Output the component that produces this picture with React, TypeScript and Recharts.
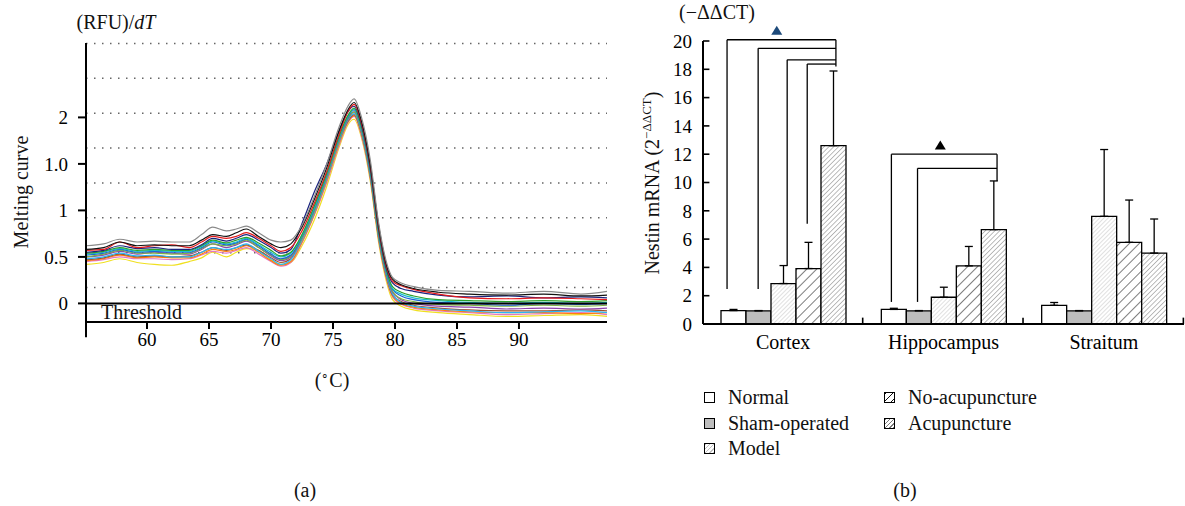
import React from "react";
import {
  Bar,
  BarChart,
  ErrorBar,
  Line,
  LineChart,
  ReferenceDot,
  ReferenceLine,
  XAxis,
  YAxis,
} from "recharts";

// ---- panel (a): melting curves ----
const temps = [
  55.1, 56.5, 57.8, 59.2, 60.6, 62, 63.4, 64.4, 65.3, 66.4, 67.2, 68, 69, 70, 70.8, 71.6, 72.5,
  73.5, 74.5, 75.5, 76.2, 76.7, 77.3, 78, 78.7, 79.3, 79.8, 80.5, 81.5, 83.5, 86, 89, 92, 95, 97.1,
];

const curveGray = [0.62, 0.64, 0.69, 0.66, 0.67, 0.66, 0.66, 0.74, 0.82, 0.78, 0.8, 0.83, 0.76, 0.68, 0.66, 0.68, 0.84, 1.15, 1.5, 1.9, 2.12, 2.2, 2.0, 1.55, 0.85, 0.45, 0.28, 0.22, 0.18, 0.14, 0.13, 0.11, 0.13, 0.1, 0.13];
const curveBlack = [0.58, 0.6, 0.66, 0.62, 0.63, 0.62, 0.62, 0.68, 0.74, 0.72, 0.76, 0.8, 0.72, 0.64, 0.6, 0.64, 0.82, 1.12, 1.46, 1.86, 2.08, 2.16, 1.96, 1.5, 0.82, 0.42, 0.26, 0.2, 0.16, 0.12, 0.1, 0.09, 0.1, 0.08, 0.09];
const curveRed = [0.57, 0.58, 0.66, 0.6, 0.62, 0.63, 0.6, 0.66, 0.72, 0.7, 0.72, 0.76, 0.7, 0.62, 0.56, 0.6, 0.78, 1.08, 1.42, 1.82, 2.06, 2.14, 1.94, 1.48, 0.8, 0.4, 0.24, 0.19, 0.15, 0.1, 0.06, 0.05, 0.06, 0.05, 0.04];
const curveNavy = [0.55, 0.57, 0.62, 0.59, 0.6, 0.58, 0.58, 0.63, 0.7, 0.67, 0.7, 0.74, 0.68, 0.6, 0.54, 0.58, 0.86, 1.2, 1.5, 1.86, 2.06, 2.12, 1.92, 1.46, 0.78, 0.38, 0.22, 0.16, 0.13, 0.09, 0.07, 0.08, 0.06, 0.07, 0.06];
const curveGreen = [0.54, 0.56, 0.6, 0.57, 0.58, 0.57, 0.57, 0.62, 0.68, 0.65, 0.68, 0.71, 0.65, 0.57, 0.51, 0.55, 0.74, 1.05, 1.4, 1.8, 2.02, 2.1, 1.9, 1.45, 0.76, 0.36, 0.18, 0.12, 0.08, 0.04, 0.03, 0.02, 0.03, 0.02, 0.03];
const curveTeal = [0.53, 0.55, 0.59, 0.56, 0.57, 0.56, 0.56, 0.61, 0.67, 0.64, 0.66, 0.7, 0.63, 0.55, 0.5, 0.54, 0.73, 1.03, 1.39, 1.79, 2.01, 2.09, 1.89, 1.43, 0.75, 0.35, 0.16, 0.1, 0.06, 0.03, 0.01, 0.0, 0.01, 0.0, 0.01];
const curveBlue = [0.52, 0.54, 0.58, 0.55, 0.56, 0.55, 0.55, 0.6, 0.66, 0.63, 0.65, 0.69, 0.62, 0.53, 0.48, 0.52, 0.72, 1.02, 1.38, 1.78, 2.0, 2.08, 1.88, 1.42, 0.74, 0.34, 0.15, 0.08, 0.04, 0.01, 0.0, -0.02, 0.0, -0.01, 0.0];
const curveOlive = [0.5, 0.53, 0.57, 0.54, 0.54, 0.53, 0.54, 0.59, 0.64, 0.62, 0.64, 0.68, 0.6, 0.52, 0.47, 0.51, 0.7, 1.0, 1.36, 1.76, 1.99, 2.06, 1.86, 1.4, 0.72, 0.33, 0.13, 0.05, 0.02, -0.01, -0.02, -0.03, -0.02, -0.03, -0.02];
const curvePurple = [0.5, 0.52, 0.56, 0.53, 0.55, 0.54, 0.53, 0.58, 0.64, 0.6, 0.63, 0.67, 0.6, 0.51, 0.46, 0.5, 0.7, 1.0, 1.36, 1.76, 1.98, 2.06, 1.86, 1.4, 0.72, 0.32, 0.12, 0.04, 0.0, -0.03, -0.04, -0.06, -0.05, -0.06, -0.05];
const curveCyan = [0.48, 0.5, 0.54, 0.51, 0.52, 0.5, 0.5, 0.55, 0.6, 0.58, 0.6, 0.64, 0.56, 0.48, 0.42, 0.47, 0.68, 0.98, 1.34, 1.74, 1.97, 2.04, 1.84, 1.38, 0.7, 0.3, 0.1, 0.01, -0.03, -0.06, -0.08, -0.1, -0.09, -0.08, -0.1];
const curveBrown = [0.47, 0.49, 0.53, 0.5, 0.51, 0.5, 0.51, 0.55, 0.6, 0.57, 0.6, 0.63, 0.57, 0.49, 0.44, 0.48, 0.69, 0.99, 1.35, 1.75, 1.96, 2.03, 1.83, 1.37, 0.69, 0.29, 0.09, 0.02, -0.02, -0.05, -0.07, -0.08, -0.08, -0.07, -0.08];
const curveOrange = [0.46, 0.48, 0.52, 0.49, 0.5, 0.49, 0.49, 0.53, 0.58, 0.56, 0.58, 0.62, 0.55, 0.46, 0.41, 0.45, 0.66, 0.96, 1.32, 1.72, 1.95, 2.02, 1.82, 1.36, 0.68, 0.28, 0.08, 0.0, -0.04, -0.07, -0.09, -0.1, -0.1, -0.11, -0.1];
const curvePink = [0.45, 0.47, 0.5, 0.48, 0.48, 0.47, 0.48, 0.52, 0.56, 0.54, 0.57, 0.6, 0.53, 0.45, 0.4, 0.44, 0.65, 0.95, 1.3, 1.7, 1.94, 2.01, 1.8, 1.35, 0.67, 0.27, 0.07, -0.01, -0.05, -0.08, -0.1, -0.12, -0.11, -0.1, -0.12];
const curveYellow = [0.42, 0.44, 0.48, 0.44, 0.42, 0.41, 0.45, 0.49, 0.55, 0.5, 0.55, 0.59, 0.57, 0.47, 0.42, 0.44, 0.62, 0.9, 1.26, 1.68, 1.92, 1.98, 1.78, 1.32, 0.64, 0.24, 0.04, -0.03, -0.07, -0.1, -0.12, -0.14, -0.13, -0.12, -0.14];

const curves = [
  curveYellow, curvePink, curveOrange, curveBrown, curveCyan, curvePurple, curveOlive,
  curveBlue, curveTeal, curveGreen, curveNavy, curveRed, curveBlack, curveGray,
];
const curveColors = [
  "#f0e020", "#e377c2", "#ff7f0e", "#a0522d", "#29b6f6", "#8e44ad", "#7cb342",
  "#1f5fd6", "#17becf", "#2ca02c", "#1a237e", "#e41a1c", "#111111", "#8a8a8a",
];

const tempTicks = [60, 65, 70, 75, 80, 85, 90];
const meltTicks = [0, 0.5, 1, 1.5, 2];
const meltTickLabels = ["0", "0.5", "1", "1.0", "2"];
const meltGrid = [0.17, 0.545, 0.92, 1.295, 1.67, 2.045, 2.42, 2.795];
const tMin = 55.08;
const tMax = 97.1;

const meltData = temps.map((t, i) => {
  const row: Record<string, number> = { t };
  curves.forEach((c, k) => (row[`c${k}`] = c[i]));
  return row;
});

// ---- panel (b): Nestin mRNA ----
const regions = ["Cortex", "Hippocampus", "Straitum"];
const regionPos = [0.5, 1.5, 2.5];
const groups = ["Normal", "Sham-operated", "Model", "No-acupuncture", "Acupuncture"];
const normalMean = [0.95, 1.03, 1.32];
const normalSd = [0.08, 0.08, 0.2];
const shamMean = [0.93, 0.93, 0.93];
const shamSd = [0.02, 0.02, 0.02];
const modelMean = [2.86, 1.89, 7.61];
const modelSd = [1.27, 0.71, 4.72];
const noAcuMean = [3.92, 4.11, 5.77];
const noAcuSd = [1.85, 1.37, 2.99];
const acuMean = [12.6, 6.67, 5.01];
const acuSd = [5.28, 3.44, 2.41];

const groupMeans = [normalMean, shamMean, modelMean, noAcuMean, acuMean];
const groupSds = [normalSd, shamSd, modelSd, noAcuSd, acuSd];
const groupFills = ["#ffffff", "#bdbdbd", "url(#hatchModel)", "url(#hatchNoAcu)", "url(#hatchAcu)"];
const swatchFills = [
  "#ffffff",
  "#bdbdbd",
  "repeating-linear-gradient(135deg, #c2c2c2 0 1px, #fff 1px 3px)",
  "repeating-linear-gradient(135deg, #111 0 1px, #fff 1px 5px)",
  "repeating-linear-gradient(135deg, #7a7a7a 0 1px, #fff 1px 3px)",
];

const barTicks = [0, 2, 4, 6, 8, 10, 12, 14, 16, 18, 20];
const regionEdges = [1, 2, 3];

const barData = regions.map((region, r) => {
  const row: Record<string, unknown> = { region, pos: regionPos[r] };
  groups.forEach((_, g) => {
    row[`g${g}`] = groupMeans[g][r];
    row[`e${g}`] = [0, groupSds[g][r]];
  });
  return row;
});

// significance brackets, in (region index + fraction, value) units
const cortexLevels = [20.09, 19.48, 18.67, 18.37];
const cortexFrom = [0.15, 0.344, 0.525, 0.65];
const cortexBase = [2.48, 2.48, 4.12, 7.09];
const cortexJoin = [0.829, 20.09, 18.2];
const hippoLevels = [12.0, 11.0];
const hippoFrom = [1.175, 1.338];
const hippoBase = [1.56, 1.56];
const hippoJoin = [1.834, 12.0, 10.1];
const markers = [
  { x: 0.46, y: 20.73, color: "#1d4a7a" },
  { x: 1.48, y: 12.62, color: "#000000" },
];

const txt: React.CSSProperties = {
  position: "absolute",
  fontSize: 20,
  color: "#111",
  whiteSpace: "nowrap",
  lineHeight: 1,
  transform: "translate(-50%, -50%)",
};

function Triangle(props: any) {
  const { cx, cy, fill } = props;
  return <path d={`M${cx},${cy - 5} L${cx + 5.5},${cy + 4} L${cx - 5.5},${cy + 4} Z`} fill={fill} />;
}

const seg = (x1: number, y1: number, x2: number, y2: number) => [
  { x: x1, y: y1 },
  { x: x2, y: y2 },
];

export default function App() {
  const legendPos = [
    { x: 704, y: 397 },
    { x: 704, y: 423 },
    { x: 704, y: 448 },
    { x: 884, y: 397 },
    { x: 884, y: 423 },
  ];

  return (
    <div style={{ position: "absolute", left: 0, top: 0, width: 1185, height: 506, background: "#fff" }}>
      {/* (a) */}
      <div style={{ position: "absolute", left: 0, top: 0 }}>
        <LineChart width={620} height={360} data={meltData} margin={{ top: 43, right: 13, bottom: 0, left: 0 }}>
          <XAxis
            dataKey="t"
            type="number"
            domain={[tMin, tMax]}
            ticks={tempTicks}
            height={38}
            stroke="#000"
            strokeWidth={2}
            tickSize={7}
            tickMargin={4}
            fontSize={19}
          />
          <YAxis
            type="number"
            domain={[-0.2, 2.8]}
            ticks={meltTicks}
            tickFormatter={(v: number) => meltTickLabels[meltTicks.indexOf(v)]}
            width={86}
            stroke="#000"
            strokeWidth={2}
            tickSize={8}
            tickMargin={10}
            fontSize={19}
          />
          {meltGrid.map((v) => (
            <ReferenceLine key={v} y={v} stroke="#666" strokeWidth={1.5} strokeDasharray="1.5 6.5" />
          ))}
          {curves.map((_, k) => (
            <Line
              key={k}
              dataKey={`c${k}`}
              type="monotone"
              stroke={curveColors[k]}
              strokeWidth={1.2}
              dot={false}
              isAnimationActive={false}
            />
          ))}
          <ReferenceLine y={0} stroke="#000" strokeWidth={2} />
          <ReferenceLine ifOverflow="visible" stroke="#000" strokeWidth={2} segment={seg(tMin, -0.2, tMin, -0.365)} />
        </LineChart>
      </div>

      {/* (b) */}
      <div style={{ position: "absolute", left: 600, top: 0 }}>
        <BarChart
          width={585}
          height={360}
          data={barData}
          margin={{ top: 41, right: 1, bottom: 0, left: 0 }}
          barCategoryGap={18}
          barGap={0}
        >
          <defs>
            <pattern id="hatchModel" patternUnits="userSpaceOnUse" width={3} height={3} patternTransform="rotate(45)">
              <rect width={3} height={3} fill="#fff" />
              <line x1={0} y1={0} x2={0} y2={3} stroke="#c2c2c2" strokeWidth={1} />
            </pattern>
            <pattern id="hatchNoAcu" patternUnits="userSpaceOnUse" width={7} height={7} patternTransform="rotate(45)">
              <rect width={7} height={7} fill="#fff" />
              <line x1={0} y1={0} x2={0} y2={7} stroke="#111" strokeWidth={1.1} />
            </pattern>
            <pattern id="hatchAcu" patternUnits="userSpaceOnUse" width={3.4} height={3.4} patternTransform="rotate(45)">
              <rect width={3.4} height={3.4} fill="#fff" />
              <line x1={0} y1={0} x2={0} y2={3.4} stroke="#7a7a7a" strokeWidth={1} />
            </pattern>
          </defs>
          <XAxis
            dataKey="region"
            height={36}
            tickLine={false}
            tickSize={6}
            tickMargin={5}
            stroke="#000"
            strokeWidth={2}
            fontSize={20}
          />
          <XAxis xAxisId="n" dataKey="pos" type="number" scale="linear" domain={[0, 3]} allowDataOverflow hide />
          <YAxis
            type="number"
            domain={[0, 20]}
            ticks={barTicks}
            width={103}
            tickLine={false}
            tickSize={6}
            tickMargin={5}
            stroke="#000"
            strokeWidth={2}
            fontSize={19}
          />
          {groups.map((g, k) => (
            <Bar key={g} dataKey={`g${k}`} fill={groupFills[k]} stroke="#000" strokeWidth={1.3} isAnimationActive={false}>
              <ErrorBar dataKey={`e${k}`} direction="y" width={4} stroke="#000" strokeWidth={1.3} />
            </Bar>
          ))}
          {barTicks.map((v) => (
            <ReferenceLine key={`yt${v}`} xAxisId="n" ifOverflow="visible" stroke="#000" strokeWidth={1.6} segment={seg(0, v, 0.04, v)} />
          ))}
          {regionEdges.map((x) => (
            <ReferenceLine key={`xe${x}`} xAxisId="n" ifOverflow="visible" stroke="#000" strokeWidth={1.6} segment={seg(x - 0.004, 0, x - 0.004, 0.45)} />
          ))}
          {cortexLevels.map((lv, k) => (
            <ReferenceLine key={`cv${k}`} xAxisId="n" ifOverflow="visible" stroke="#000" strokeWidth={1.3} segment={seg(cortexFrom[k], cortexBase[k], cortexFrom[k], lv)} />
          ))}
          {cortexLevels.map((lv, k) => (
            <ReferenceLine key={`ch${k}`} xAxisId="n" ifOverflow="visible" stroke="#000" strokeWidth={1.3} segment={seg(cortexFrom[k], lv, cortexJoin[0], lv)} />
          ))}
          <ReferenceLine xAxisId="n" ifOverflow="visible" stroke="#000" strokeWidth={1.3} segment={seg(cortexJoin[0], cortexJoin[1], cortexJoin[0], cortexJoin[2])} />
          {hippoLevels.map((lv, k) => (
            <ReferenceLine key={`hv${k}`} xAxisId="n" ifOverflow="visible" stroke="#000" strokeWidth={1.3} segment={seg(hippoFrom[k], hippoBase[k], hippoFrom[k], lv)} />
          ))}
          {hippoLevels.map((lv, k) => (
            <ReferenceLine key={`hh${k}`} xAxisId="n" ifOverflow="visible" stroke="#000" strokeWidth={1.3} segment={seg(hippoFrom[k], lv, hippoJoin[0], lv)} />
          ))}
          <ReferenceLine xAxisId="n" ifOverflow="visible" stroke="#000" strokeWidth={1.3} segment={seg(hippoJoin[0], hippoJoin[1], hippoJoin[0], hippoJoin[2])} />
          {markers.map((m, k) => (
            <ReferenceDot
              key={`m${k}`}
              xAxisId="n"
              x={m.x}
              y={m.y}
              r={5}
              fill={m.color}
              ifOverflow="visible"
              shape={(p: any) => <Triangle {...p} fill={m.color} />}
            />
          ))}
        </BarChart>
      </div>

      {/* axis titles and captions */}
      <div style={{ ...txt, left: 116, top: 22 }}>
        (RFU)/<i>dT</i>
      </div>
      <div style={{ ...txt, left: 21, top: 192, transform: "translate(-50%, -50%) rotate(-90deg)" }}>Melting curve</div>
      <div style={{ ...txt, left: 101, top: 312, transform: "translate(0, -50%)" }}>Threshold</div>
      <div style={{ ...txt, left: 332, top: 380 }}>(<sup style={{ fontSize: 12 }}>∘</sup>C)</div>
      <div style={{ ...txt, left: 305, top: 490 }}>(a)</div>

      <div style={{ ...txt, left: 717, top: 12 }}>(−ΔΔCT)</div>
      <div style={{ ...txt, left: 651, top: 183, transform: "translate(-50%, -50%) rotate(-90deg)" }}>
        Nestin mRNA (2<sup style={{ fontSize: 13 }}>−ΔΔCT</sup>)
      </div>
      <div style={{ ...txt, left: 905, top: 490 }}>(b)</div>

      {groups.map((g, k) => (
        <div
          key={g}
          style={{ position: "absolute", left: legendPos[k].x, top: legendPos[k].y - 11, height: 22, display: "flex", alignItems: "center", gap: 13, fontSize: 20, color: "#111", whiteSpace: "nowrap" }}
        >
          <div style={{ width: 9, height: 9, border: "1.2px solid #000", background: swatchFills[k] }} />
          <span>{g}</span>
        </div>
      ))}
    </div>
  );
}
